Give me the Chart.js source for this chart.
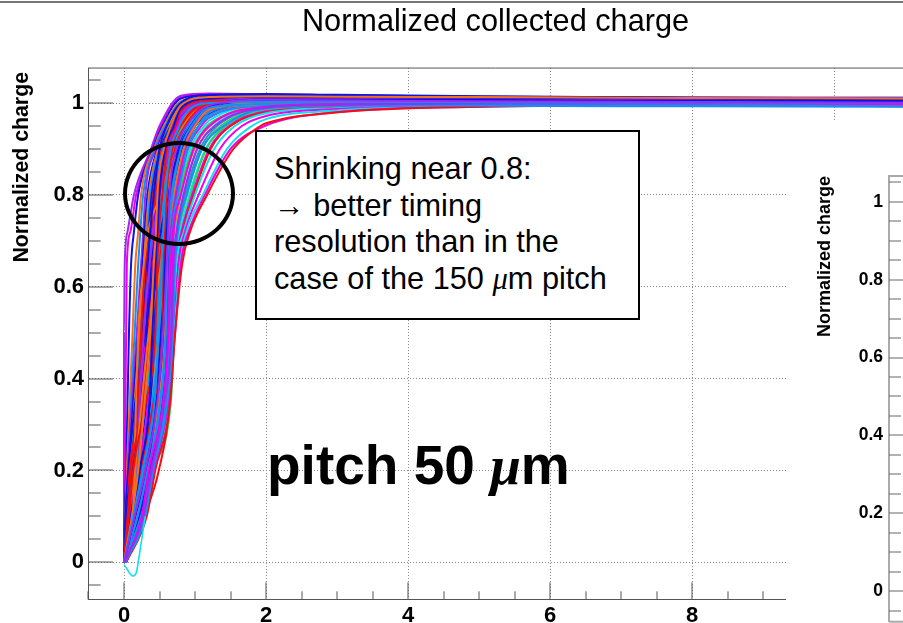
<!DOCTYPE html>
<html>
<head>
<meta charset="utf-8">
<title>Normalized collected charge</title>
<script src="https://cdn.jsdelivr.net/npm/chart.js@4/dist/chart.umd.min.js"></script>
<style>
  html, body { margin: 0; padding: 0; background: #fff; }
  body { position: relative; width: 903px; height: 623px; overflow: hidden; font-family: "Liberation Sans", Arial, sans-serif; }
  canvas { position: absolute; display: block; }
  #main { left: 0; top: 0; z-index: 1; }
  #inset { left: 786px; top: 120px; z-index: 2; background: #fff; }
  #topRule { position: absolute; left: 0; top: 1px; width: 903px; height: 2px; background: #777; z-index: 3; }
  #note { position: absolute; left: 255px; top: 130px; width: 385px; height: 190px; box-sizing: border-box; border: 2px solid #000; background: #fff; z-index: 3;
    font-size: 30.7px; line-height: 36.7px; padding: 19px 0 0 17px; white-space: pre; color: #000; }
  #ring { position: absolute; left: 123px; top: 141px; width: 112px; height: 105px; box-sizing: border-box; border: 4px solid #000; border-radius: 50%; z-index: 3; }
  #pitch { position: absolute; left: 267px; top: 433px; font-size: 55px; font-weight: bold; line-height: 64px; white-space: pre; z-index: 3; color: #000; }
  i.mu { font-family: "Liberation Serif", serif; }
</style>
</head>
<body>
<div id="topRule"></div>
<canvas id="main" width="903" height="623"></canvas>
<canvas id="inset" width="117" height="533"></canvas>
<div id="note">Shrinking near 0.8:
→ better timing
resolution than in the
case of the 150 <i class="mu">μ</i>m pitch</div>
<div id="ring"></div>
<div id="pitch">pitch 50 <i class="mu">μ</i>m</div>
<script>
// axis ticks
const xMajor = [0, 2, 4, 6, 8, 10];
const xMinor = [-0.5, 0.5, 1, 1.5, 2.5, 3, 3.5, 4.5, 5, 5.5, 6.5, 7, 7.5, 8.5, 9, 9.5, 10.5];
const yMajor = [0, 0.2, 0.4, 0.6, 0.8, 1];
const yMinor = [-0.05, 0.05, 0.1, 0.15, 0.25, 0.3, 0.35, 0.45, 0.5, 0.55, 0.65, 0.7, 0.75, 0.85, 0.9, 0.95, 1.05];

// charge levels at which each curve's rise time was read
const riseLevels = [0, 0.1, 0.2, 0.35, 0.5, 0.65, 0.72, 0.8, 0.9, 0.95];
// times at which the settled charge was read
const settleTimes = [0.8, 1.2, 2, 3, 5, 8, 11];

const riseX = [
  [0, 0, 0, 0, 0, 0.01, 0.05, 0.14, 0.38, 0.5],
  [0, 0.005, 0.01, 0.02, 0.03, 0.04, 0.09, 0.17, 0.4, 0.52],
  [0, 0.01, 0.03, 0.05, 0.07, 0.1, 0.14, 0.2, 0.41, 0.54],
  [0, 0.02, 0.04, 0.08, 0.12, 0.16, 0.2, 0.24, 0.42, 0.56],
  [0, 0.03, 0.06, 0.1, 0.15, 0.2, 0.23, 0.27, 0.43, 0.58],
  [0, 0.02, 0.05, 0.11, 0.18, 0.24, 0.27, 0.3, 0.45, 0.6],
  [0, 0.04, 0.07, 0.13, 0.2, 0.26, 0.29, 0.33, 0.47, 0.61],
  [0, 0.03, 0.08, 0.15, 0.22, 0.28, 0.31, 0.35, 0.48, 0.63],
  [0, 0.05, 0.09, 0.16, 0.24, 0.3, 0.33, 0.37, 0.5, 0.65],
  [0, 0.04, 0.1, 0.18, 0.26, 0.32, 0.35, 0.39, 0.52, 0.66],
  [0, 0.06, 0.11, 0.2, 0.27, 0.34, 0.37, 0.41, 0.53, 0.68],
  [0, 0.05, 0.12, 0.21, 0.29, 0.35, 0.39, 0.43, 0.55, 0.7],
  [0, 0.07, 0.13, 0.23, 0.31, 0.37, 0.41, 0.45, 0.57, 0.72],
  [0, 0.08, 0.14, 0.24, 0.33, 0.39, 0.43, 0.47, 0.59, 0.73],
  [0, 0.06, 0.15, 0.25, 0.34, 0.41, 0.45, 0.49, 0.6, 0.75],
  [0, 0.09, 0.16, 0.27, 0.36, 0.43, 0.47, 0.51, 0.62, 0.77],
  [0, 0.1, 0.17, 0.28, 0.38, 0.44, 0.48, 0.53, 0.64, 0.79],
  [0, 0.08, 0.18, 0.3, 0.39, 0.46, 0.5, 0.55, 0.66, 0.81],
  [0, 0.11, 0.19, 0.31, 0.41, 0.48, 0.52, 0.57, 0.68, 0.83],
  [0, 0.12, 0.2, 0.32, 0.42, 0.49, 0.53, 0.59, 0.7, 0.85],
  [0, 0.1, 0.21, 0.33, 0.44, 0.5, 0.55, 0.6, 0.72, 0.87],
  [0, 0.13, 0.22, 0.35, 0.45, 0.52, 0.56, 0.62, 0.74, 0.9],
  [0, 0.14, 0.24, 0.36, 0.47, 0.53, 0.58, 0.64, 0.76, 0.92],
  [0, 0.12, 0.25, 0.38, 0.48, 0.55, 0.6, 0.66, 0.78, 0.95],
  [0, 0.15, 0.26, 0.39, 0.5, 0.56, 0.61, 0.68, 0.81, 0.98],
  [0, 0.16, 0.27, 0.41, 0.51, 0.58, 0.63, 0.7, 0.84, 1.01],
  [0, 0.14, 0.28, 0.42, 0.53, 0.59, 0.65, 0.72, 0.87, 1.05],
  [0, 0.17, 0.29, 0.44, 0.54, 0.61, 0.67, 0.74, 0.9, 1.09],
  [0.01, 0.18, 0.3, 0.45, 0.56, 0.62, 0.68, 0.76, 0.93, 1.13],
  [0.01, 0.19, 0.31, 0.47, 0.57, 0.64, 0.7, 0.78, 0.96, 1.17],
  [0.01, 0.2, 0.32, 0.48, 0.58, 0.65, 0.71, 0.8, 0.99, 1.21],
  [0.02, 0.21, 0.33, 0.5, 0.6, 0.67, 0.73, 0.83, 1.03, 1.26],
  [0.02, 0.22, 0.34, 0.52, 0.62, 0.68, 0.75, 0.86, 1.07, 1.31],
  [0.02, 0.24, 0.36, 0.54, 0.63, 0.7, 0.77, 0.89, 1.1, 1.36],
  [0.02, 0.25, 0.37, 0.56, 0.65, 0.71, 0.79, 0.92, 1.15, 1.42],
  [0.02, 0.26, 0.4, 0.66, 0.71, 0.76, 0.82, 0.94, 1.16, 1.44],
  [0.03, 0.26, 0.39, 0.58, 0.66, 0.73, 0.81, 0.96, 1.2, 1.48],
  [0.03, 0.28, 0.49, 0.645, 0.7, 0.75, 0.83, 0.98, 1.22, 1.5],
  [0.03, 0.28, 0.4, 0.6, 0.68, 0.74, 0.84, 1.0, 1.27, 1.56],
  [0.03, 0.3, 0.42, 0.62, 0.7, 0.77, 0.86, 1.05, 1.35, 1.66],
  [0.03, 0.31, 0.43, 0.64, 0.71, 0.79, 0.88, 1.11, 1.45, 1.8],
  [0.03, 0.29, 0.41, 0.63, 0.72, 0.8, 0.91, 1.14, 1.5, 1.98],
  [0.03, 0.32, 0.44, 0.65, 0.72, 0.82, 0.93, 1.17, 1.54, 1.92],
  // curves that cross their neighbours
  [0, 0.02, 0.06, 0.16, 0.3, 0.42, 0.46, 0.5, 0.56, 0.66],
  [0, 0.04, 0.08, 0.2, 0.24, 0.3, 0.38, 0.44, 0.62, 0.75],
  [0, 0.06, 0.14, 0.17, 0.2, 0.28, 0.34, 0.52, 0.72, 0.84],
  [0, 0.03, 0.12, 0.26, 0.32, 0.34, 0.37, 0.42, 0.5, 0.6],
  [0, 0.08, 0.2, 0.34, 0.4, 0.42, 0.47, 0.58, 0.66, 0.75],
  [0, 0.1, 0.18, 0.22, 0.28, 0.36, 0.42, 0.5, 0.63, 0.7],
  [0, 0.13, 0.19, 0.3, 0.46, 0.5, 0.52, 0.56, 0.7, 0.86],
  [0, 0.05, 0.1, 0.27, 0.36, 0.5, 0.55, 0.6, 0.68, 0.8],
  [0, 0.09, 0.23, 0.37, 0.43, 0.46, 0.52, 0.62, 0.76, 0.92],
  [0, 0.12, 0.16, 0.25, 0.35, 0.52, 0.56, 0.6, 0.8, 0.95],
  [0, 0.16, 0.28, 0.4, 0.5, 0.55, 0.6, 0.68, 0.88, 1.05],
  [0, 0.07, 0.13, 0.31, 0.44, 0.47, 0.49, 0.54, 0.6, 0.72],
  [0, 0.18, 0.3, 0.45, 0.52, 0.6, 0.66, 0.72, 0.85, 1.0],
  [0, 0.2, 0.34, 0.5, 0.58, 0.6, 0.62, 0.66, 0.78, 0.92],
  [0, 0.22, 0.36, 0.54, 0.6, 0.62, 0.64, 0.7, 0.82, 0.96],
  [0.02, 0.28, 0.42, 0.6, 0.66, 0.68, 0.7, 0.74, 0.86, 1.0],
  [0.02, 0.26, 0.38, 0.56, 0.62, 0.64, 0.66, 0.72, 0.84, 0.98],
  [0, 0.24, 0.4, 0.58, 0.64, 0.66, 0.68, 0.76, 0.9, 1.05],
  [0, 0.18, 0.3, 0.48, 0.56, 0.6, 0.63, 0.7, 0.84, 1.0],
  [0, 0.15, 0.24, 0.42, 0.54, 0.56, 0.58, 0.6, 0.72, 0.86],
  [0, 0.16, 0.32, 0.46, 0.55, 0.58, 0.6, 0.64, 0.78, 0.94],
  [0, 0.19, 0.33, 0.52, 0.59, 0.61, 0.63, 0.68, 0.8, 0.95],
  [0.01, 0.25, 0.35, 0.55, 0.63, 0.66, 0.69, 0.8, 0.98, 1.2],
  [0.02, 0.3, 0.41, 0.61, 0.69, 0.72, 0.76, 0.88, 1.1, 1.4],
  [0.01, 0.27, 0.39, 0.57, 0.67, 0.7, 0.74, 0.84, 1.03, 1.28],
  [0, 0.14, 0.22, 0.36, 0.4, 0.44, 0.47, 0.5, 0.58, 0.7],
  [0, 0.11, 0.2, 0.29, 0.37, 0.42, 0.45, 0.47, 0.56, 0.66],
  [0, 0.13, 0.26, 0.43, 0.49, 0.53, 0.55, 0.58, 0.66, 0.78],
  [0, 0.15, 0.3, 0.47, 0.55, 0.6, 0.62, 0.64, 0.74, 0.88]
];

const settleQ = [
  [1.016, 1.021, 1.019, 1.017, 1.014, 1.012, 1.012],
  [1.012, 1.019, 1.018, 1.016, 1.013, 1.011, 1.01],
  [1.01, 1.017, 1.017, 1.015, 1.012, 1.011, 1.008],
  [1.004, 1.015, 1.016, 1.014, 1.012, 1.01, 1.007],
  [1.002, 1.014, 1.015, 1.013, 1.011, 1.009, 1.011],
  [1.0, 1.012, 1.014, 1.012, 1.01, 1.008, 1.006],
  [0.998, 1.011, 1.013, 1.012, 1.009, 1.008, 1.005],
  [0.995, 1.01, 1.012, 1.011, 1.009, 1.007, 1.009],
  [0.993, 1.008, 1.012, 1.01, 1.008, 1.006, 1.004],
  [0.99, 1.007, 1.011, 1.01, 1.008, 1.006, 1.004],
  [0.985, 1.006, 1.01, 1.009, 1.007, 1.005, 1.003],
  [0.98, 1.005, 1.009, 1.008, 1.007, 1.005, 1.007],
  [0.975, 1.004, 1.008, 1.008, 1.006, 1.004, 1.003],
  [0.972, 1.003, 1.007, 1.007, 1.006, 1.004, 1.002],
  [0.965, 1.002, 1.007, 1.007, 1.005, 1.004, 1.002],
  [0.958, 1.0, 1.006, 1.006, 1.005, 1.003, 1.006],
  [0.953, 0.999, 1.005, 1.005, 1.004, 1.003, 1.002],
  [null, 0.998, 1.005, 1.005, 1.004, 1.003, 1.001],
  [null, 0.997, 1.004, 1.004, 1.004, 1.002, 1.001],
  [null, 0.995, 1.003, 1.004, 1.003, 1.002, 1.005],
  [null, 0.993, 1.003, 1.003, 1.003, 1.002, 1.0],
  [null, 0.99, 1.002, 1.003, 1.003, 1.002, 1.0],
  [null, 0.988, 1.001, 1.002, 1.002, 1.001, 1.0],
  [null, 0.985, 1.0, 1.002, 1.002, 1.001, 0.999],
  [null, 0.982, 0.999, 1.001, 1.001, 1.001, 1.004],
  [null, 0.979, 0.998, 1.0, 1.001, 1.0, 0.999],
  [null, 0.974, 0.997, 1.0, 1.0, 1.0, 0.998],
  [null, 0.968, 0.996, 0.999, 1.0, 1.0, 0.998],
  [null, 0.962, 0.995, 0.998, 0.999, 0.999, 1.002],
  [null, 0.955, 0.994, 0.997, 0.999, 0.999, 0.998],
  [null, null, 0.993, 0.996, 0.998, 0.999, 0.997],
  [null, null, 0.991, 0.995, 0.998, 0.998, 0.997],
  [null, null, 0.989, 0.994, 0.997, 0.998, 1.0],
  [null, null, 0.987, 0.993, 0.997, 0.998, 0.996],
  [null, null, 0.985, 0.992, 0.996, 0.997, 0.996],
  [null, null, 0.984, 0.992, 0.996, 0.997, 0.995],
  [null, null, 0.982, 0.99, 0.996, 0.997, 0.999],
  [null, null, 0.98, 0.99, 0.995, 0.997, 0.995],
  [null, null, 0.978, 0.989, 0.995, 0.996, 0.995],
  [null, null, 0.972, 0.987, 0.994, 0.996, 0.995],
  [null, null, 0.965, 0.984, 0.993, 0.995, 0.994],
  [null, null, null, 0.98, 0.992, 0.995, 0.994],
  [null, null, 0.956, 0.98, 0.992, 0.995, 0.997],
  [0.985, 1.016, 1.017, 1.016, 1.014, 1.012, 1.01],
  [0.965, 1.003, 1.004, 1.003, 1.003, 1.002, 1.002],
  [null, 0.996, 1.001, 1.001, 1.002, 1.002, 1.002],
  [1.0, 1.018, 1.02, 1.018, 1.015, 1.011, 1.003],
  [0.968, 0.992, 1.0, 1.006, 1.008, 1.006, 1.005],
  [0.975, 1.004, 1.01, 1.009, 1.012, 1.01, 1.009],
  [null, 0.99, 0.998, 1.0, 0.998, 0.998, 1.0],
  [null, 1.001, 1.002, 1.002, 1.002, 1.003, 1.002],
  [null, 0.985, 1.0, 1.001, 1.0, 1.0, 1.0],
  [null, 0.982, 0.997, 0.999, 0.997, 0.996, 0.993],
  [null, 0.97, 0.994, 0.996, 0.994, 0.993, 0.992],
  [0.982, 1.006, 1.003, 1.002, 1.003, 1.003, 1.003],
  [null, 0.978, 1.0, 1.0, 1.0, 1.0, 1.001],
  [null, 0.992, 1.004, 1.006, 1.006, 1.005, 1.004],
  [null, 0.99, 1.006, 1.008, 1.007, 1.006, 1.005],
  [null, 0.985, 1.001, 1.003, 1.002, 1.002, 1.002],
  [null, 0.988, 1.01, 1.012, 1.011, 1.009, 1.008],
  [null, 0.98, 0.999, 1.002, 1.001, 1.001, 0.998],
  [null, 0.986, 1.0, 1.003, 1.002, 1.0, 1.002],
  [null, 0.998, 1.004, 1.002, 1.003, 1.002, 1.003],
  [null, 0.992, 1.008, 1.007, 1.005, 1.004, 1.004],
  [null, 0.99, 0.998, 1.0, 1.0, 1.001, 0.999],
  [null, null, 0.992, 0.998, 1.0, 1.0, 0.997],
  [null, null, 0.988, 0.994, 0.996, 0.996, 0.993],
  [null, null, 0.99, 0.996, 0.999, 0.999, 1.001],
  [0.99, 1.01, 1.014, 1.013, 1.012, 1.01, 1.008],
  [0.995, 1.013, 1.015, 1.014, 1.013, 1.011, 1.01],
  [0.96, 1.0, 1.003, 1.003, 1.002, 1.001, 1.0],
  [null, 0.995, 1.007, 1.006, 1.004, 1.002, 1.0]
];

const PUR = "#9a2cf0", MAG = "#f000e8", BLU = "#0a14e6", ORA = "#f5701a", CYA = "#10e0f0",
      RED = "#f01010", GRN = "#30d060", AZU = "#1490f0", STL = "#3a8ac8", TEA = "#20b8a0";
const curveColors = [
  PUR, MAG, BLU, ORA, AZU, PUR, BLU, ORA, AZU, BLU,
  RED, AZU, MAG, BLU, RED, ORA, STL, RED, GRN, AZU,
  BLU, CYA, TEA, ORA, CYA, GRN, STL, MAG, CYA, GRN,
  ORA, CYA, STL, GRN, CYA, GRN, MAG, RED, CYA, MAG,
  CYA, MAG, RED,
  BLU, RED, ORA, BLU, MAG, PUR, AZU, RED, BLU, ORA, AZU, RED, BLU,
  AZU, BLU, MAG, PUR, AZU, ORA, RED, BLU, AZU, MAG, AZU, PUR, BLU, ORA, AZU, PUR
];

// the one curve that dips below zero first
const undershootX = [0, 0.04, 0.09, 0.13, 0.17, 0.2, 0.24, 0.3];
const undershootQ = [-0.005, -0.014, -0.026, -0.03, -0.024, 0, 0.04, 0.1];

const curves = riseX.map((times, i) => {
  const pts = times.map((x, j) => ({ x: x, y: riseLevels[j] }));
  const last = times[times.length - 1];
  settleTimes.forEach((t, j) => {
    if (settleQ[i][j] !== null && t > last) pts.push({ x: t, y: settleQ[i][j] });
  });
  return {
    data: pts,
    borderColor: curveColors[i],
    borderWidth: 2,
    pointRadius: 0,
    showLine: true,
    fill: false,
    cubicInterpolationMode: "monotone",
    order: riseX.length - i // chart.js paints the lowest order last
  };
});
curves.push({
  data: undershootX.map((x, i) => ({ x: x, y: undershootQ[i] })),
  borderColor: CYA,
  borderWidth: 1.6,
  pointRadius: 0,
  showLine: true,
  tension: 0.3,
  order: 0
});

// ROOT style inward ticks, frame lines and the axis title placed near the top
const frameTicks = {
  id: "frameTicks",
  afterDatasetsDraw(chart, args, opts) {
    const { ctx, chartArea, scales } = chart;
    ctx.save();
    const line = (x0, y0, x1, y1) => {
      ctx.beginPath();
      ctx.moveTo(x0, y0);
      ctx.lineTo(x1, y1);
      ctx.stroke();
    };
    ctx.strokeStyle = opts.frameColor;
    ctx.lineWidth = opts.frameWidth;
    line(chartArea.left, chartArea.top, chartArea.right, chartArea.top);
    if (!opts.xTicks) line(chartArea.left, chartArea.bottom, chartArea.right, chartArea.bottom);
    ctx.strokeStyle = opts.color;
    ctx.lineWidth = 1;
    yMajor.forEach((v) => {
      const p = Math.round(scales.y.getPixelForValue(v));
      line(chartArea.left, p, chartArea.left + opts.yMajorLen, p);
    });
    yMinor.forEach((v) => {
      const p = Math.round(scales.y.getPixelForValue(v));
      line(chartArea.left, p, chartArea.left + opts.yMinorLen, p);
    });
    if (opts.xTicks) {
      xMajor.forEach((v) => {
        const p = Math.round(scales.x.getPixelForValue(v));
        line(p, chartArea.bottom, p, chartArea.bottom - 17);
      });
      xMinor.forEach((v) => {
        const p = Math.round(scales.x.getPixelForValue(v));
        line(p, chartArea.bottom, p, chartArea.bottom - 8);
      });
    }
    ctx.translate(opts.titleX, opts.titleTop);
    ctx.rotate(-Math.PI / 2);
    ctx.font = opts.titleFont;
    ctx.fillStyle = "#000";
    ctx.textAlign = "right";
    ctx.textBaseline = "middle";
    ctx.fillText("Normalized charge", 0, 0);
    ctx.restore();
  }
};

new Chart(document.getElementById("main"), {
  type: "scatter",
  data: { datasets: curves },
  plugins: [frameTicks],
  options: {
    responsive: false,
    animation: false,
    events: [],
    layout: { padding: 0 },
    plugins: {
      legend: { display: false },
      tooltip: { enabled: false },
      title: {
        display: true,
        text: "Normalized collected charge",
        color: "#000",
        fullSize: false,
        font: { family: "Liberation Sans", size: 30.7, weight: "normal", lineHeight: 1.2 },
        padding: { top: 4, bottom: 27.2 }
      },
      frameTicks: {
        color: "#555", frameColor: "#555", frameWidth: 1, yMajorLen: 25, yMinorLen: 12.7, xTicks: true,
        titleX: 22, titleTop: 72, titleFont: "bold 21.3px 'Liberation Sans'"
      }
    },
    scales: {
      x: {
        type: "linear",
        min: -0.507,
        max: 10.97,
        afterFit(scale) { scale.height = 23.7; },
        afterBuildTicks(scale) { scale.ticks = xMajor.map((v) => ({ value: v })); },
        grid: { color: "#888", drawTicks: false },
        border: { color: "#555", width: 1, dash: [1, 2] },
        ticks: { color: "#000", font: { family: "Liberation Sans", size: 22, weight: "bold" }, padding: 3, maxRotation: 0, callback: (v) => String(v) }
      },
      y: {
        type: "linear",
        min: -0.0806,
        max: 1.0763,
        afterFit(scale) { scale.width = 88; },
        afterBuildTicks(scale) { scale.ticks = yMajor.map((v) => ({ value: v })); },
        grid: { color: "#888", drawTicks: false },
        border: { color: "#555", width: 1, dash: [1, 2] },
        ticks: { color: "#000", font: { family: "Liberation Sans", size: 22, weight: "bold" }, padding: 4, callback: (v) => String(v) }
      }
    }
  }
});

// second panel, cut off by the edge of the slide
new Chart(document.getElementById("inset"), {
  type: "scatter",
  data: { datasets: [] },
  plugins: [frameTicks],
  options: {
    responsive: false,
    animation: false,
    events: [],
    layout: { padding: { top: 56, bottom: 31.3 } },
    plugins: {
      legend: { display: false },
      tooltip: { enabled: false },
      frameTicks: {
        color: "#666", frameColor: "#aaa", frameWidth: 2, yMajorLen: 16, yMinorLen: 12, xTicks: false,
        titleX: 39, titleTop: 56, titleFont: "bold 18px 'Liberation Sans'"
      }
    },
    scales: {
      x: { type: "linear", display: false, min: 0, max: 1 },
      y: {
        type: "linear",
        min: -0.0786,
        max: 1.0665,
        afterFit(scale) { scale.width = 103; },
        afterBuildTicks(scale) { scale.ticks = yMajor.map((v) => ({ value: v })); },
        grid: { display: false, drawTicks: false },
        border: { color: "#aaa", width: 2 },
        ticks: { color: "#000", font: { family: "Liberation Sans", size: 17.5, weight: "bold" }, padding: 6, callback: (v) => String(v) }
      }
    }
  }
});
</script>
</body>
</html>
